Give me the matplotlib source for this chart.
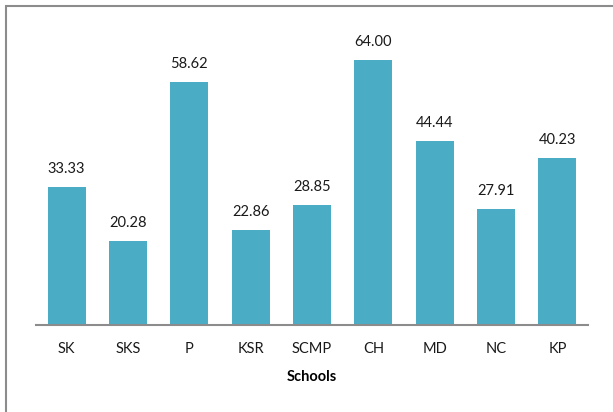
import matplotlib.pyplot as plt
from matplotlib.patches import Rectangle

schools = ["SK", "SKS", "P", "KSR", "SCMP", "CH", "MD", "NC", "KP"]
values = [33.33, 20.28, 58.62, 22.86, 28.85, 64.00, 44.44, 27.91, 40.23]

plt.rcParams['font.family'] = ['Lato', 'DejaVu Sans']

fig = plt.figure(figsize=(6.13, 4.12), dpi=100)
ax = fig.add_axes([36 / 613, 87 / 412, 552 / 613, 290 / 412])

bars = ax.bar(range(len(schools)), values, width=0.62, color='#4BACC6')
ax.set_xlim(-0.5, len(schools) - 0.5)
ax.set_ylim(0, 70)

# value labels above each bar
for bar, v in zip(bars, values):
    ax.annotate(f'{v:.2f}', (bar.get_x() + bar.get_width() / 2, v),
                xytext=(0, 8), textcoords='offset points',
                ha='center', va='bottom', fontsize=10.5, color='#1a1a1a')

ax.set_xticks(range(len(schools)))
ax.set_xticklabels(schools, fontsize=10.5, color='#1a1a1a')
ax.tick_params(axis='x', length=0, pad=12)
ax.set_yticks([])
for side in ['top', 'right', 'left']:
    ax.spines[side].set_visible(False)
ax.spines['bottom'].set_color('#8c8c8c')
ax.spines['bottom'].set_linewidth(1.5)
ax.set_xlabel('Schools', fontsize=10.5, fontweight='bold', labelpad=10)

# chart border
fig.patches.append(Rectangle((6 / 613, -0.1), 1.2, (406 / 412) + 0.1,
                             transform=fig.transFigure, fill=False,
                             edgecolor='#8c8c8c', linewidth=1.5))

plt.savefig('out.png', dpi=100)
